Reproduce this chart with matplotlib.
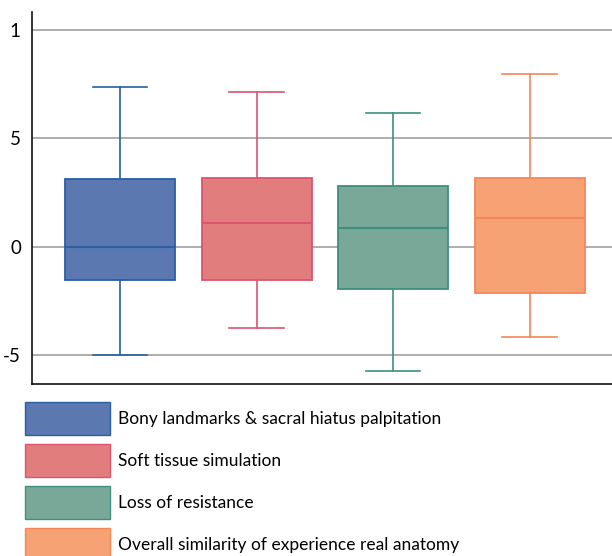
import matplotlib
matplotlib.use("Agg")
import matplotlib.pyplot as plt
from matplotlib.patches import Patch

plt.rcParams['font.family'] = ['Lato', 'DejaVu Sans']

categories = ["Bony landmarks & sacral hiatus palpitation",
              "Soft tissue simulation",
              "Loss of resistance",
              "Overall similarity of experience real anatomy"]
whisker_low = [-5.0, -3.75, -5.74, -4.17]
q1 = [-1.53, -1.53, -1.94, -2.13]
median = [0.0, 1.11, 0.88, 1.34]
q3 = [3.10, 3.19, 2.82, 3.15]
whisker_high = [7.36, 7.13, 6.16, 7.96]
fill_colors = ["#5b78b0", "#e27d7d", "#79a899", "#f7a274"]
edge_colors = ["#2a5fa4", "#dc5470", "#3f8f7e", "#f5865a"]
tick_values = [-5, 0, 5, 10]
tick_labels = ["-5", "0", "5", "1"]

fig = plt.figure(figsize=(6.12, 5.56), dpi=100)
ax = fig.add_axes([32/612, (556-384)/556, 1 - 32/612, (384-12)/556])

stats = []
for i in range(len(categories)):
    stats.append(dict(med=median[i], q1=q1[i], q3=q3[i],
                      whislo=whisker_low[i], whishi=whisker_high[i],
                      fliers=[], label=categories[i]))

bp = ax.bxp(stats, positions=[1, 2, 3, 4], widths=0.806, patch_artist=True,
            showfliers=False, manage_ticks=False)
for i in range(4):
    bp['boxes'][i].set_facecolor(fill_colors[i])
    bp['boxes'][i].set_edgecolor(edge_colors[i])
    bp['boxes'][i].set_linewidth(1.3)
    bp['boxes'][i].set_zorder(3)
    bp['medians'][i].set_color(edge_colors[i])
    bp['medians'][i].set_linewidth(1.5)
    bp['medians'][i].set_zorder(4)
    for w in bp['whiskers'][2*i:2*i+2]:
        w.set_color(edge_colors[i]); w.set_linewidth(1.2); w.set_zorder(3)
    for c in bp['caps'][2*i:2*i+2]:
        c.set_color(edge_colors[i]); c.set_linewidth(1.2); c.set_zorder(3)
        xd = c.get_xdata()
        cx = (xd[0] + xd[1]) / 2
        c.set_xdata([cx - 0.2, cx + 0.2])

ax.set_xlim(0.355, 4.604)
ax.set_ylim(-6.34, 10.83)
ax.set_yticks(tick_values)
ax.set_yticklabels(tick_labels, fontsize=13.5)
ax.set_xticks([])
ax.tick_params(axis='y', length=0, pad=8)
ax.yaxis.grid(True, color="#999999", linewidth=1.1, zorder=0)
ax.set_axisbelow(True)
for s in ['top', 'right']:
    ax.spines[s].set_visible(False)
ax.spines['left'].set_color('#111111')
ax.spines['bottom'].set_color('#111111')
ax.spines['left'].set_linewidth(1.2)
ax.spines['bottom'].set_linewidth(1.2)

handles = [Patch(facecolor=fill_colors[i], edgecolor=edge_colors[i], linewidth=1.0)
           for i in range(4)]
fs = 12.5
fig.legend(handles, categories, loc='upper left', bbox_to_anchor=(25/612, 1 - 402/556),
           frameon=False, fontsize=fs, handlelength=4.9, handleheight=2.55,
           handletextpad=0.46, labelspacing=0.52, borderaxespad=0, borderpad=0)

fig.savefig("out.png", dpi=100)
